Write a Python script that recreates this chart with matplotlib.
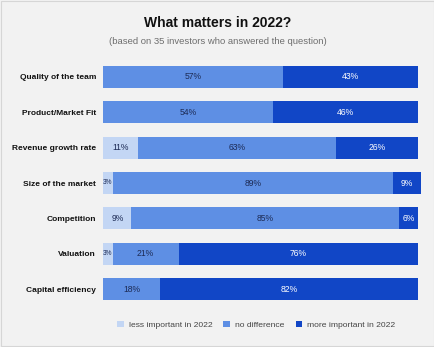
import matplotlib.pyplot as plt
from matplotlib.patches import Patch, Rectangle

plt.rcParams['font.family'] = ['Liberation Sans', 'DejaVu Sans']

categories = ['Quality of the team', 'Product/Market Fit', 'Revenue growth rate',
              'Size of the market', 'Competition', 'Valuation', 'Capital efficiency']
less_important = [0, 0, 11, 3, 9, 3, 0]
no_difference = [57, 54, 63, 89, 85, 21, 18]
more_important = [43, 46, 26, 9, 6, 76, 82]

series_names = ['less important in 2022', 'no difference', 'more important in 2022']
colors = ['#c3d6f4', '#5e8fe4', '#1146c6']
text_colors = ['#1d2b55', '#1d2b55', 'white']

bg = '#f2f2f2'
fig = plt.figure(figsize=(4.35, 3.47), dpi=100, facecolor=bg)
fig.patches.append(Rectangle((0.003, 0.003), 0.994, 0.994, transform=fig.transFigure,
                             fill=False, edgecolor='#d6d6d6', linewidth=0.8))

ax = fig.add_axes([0.237, 1 - 307 / 347, 0.724, 248 / 347])
ax.set_facecolor(bg)

y = list(range(len(categories)))
left = [0] * len(categories)
for vals, color, tcol in zip([less_important, no_difference, more_important], colors, text_colors):
    ax.barh(y, vals, left=left, height=0.62, color=color, clip_on=False)
    for i, v in enumerate(vals):
        if v > 0:
            fs = 4.8 if v < 5 else 6.2
            ax.text(left[i] + v / 2, i, f'{v}%', ha='center', va='center',
                    fontsize=fs, color=tcol)
    left = [l + v for l, v in zip(left, vals)]

ax.set_xlim(0, 100)
ax.set_ylim(6.5, -0.5)
ax.set_xticks([])
ax.set_yticks(y)
ax.set_yticklabels(categories, fontsize=6.0, fontweight='bold', color='#111111')
ax.tick_params(axis='y', length=0, pad=5)
for s in ax.spines.values():
    s.set_visible(False)

fig.text(0.5, 1 - 23 / 347, 'What matters in 2022?', ha='center', va='center',
         fontsize=10, fontweight='bold', color='#111111')
fig.text(0.5, 1 - 41 / 347, '(based on 35 investors who answered the question)',
         ha='center', va='center', fontsize=6.8, color='#6e6e6e')

handles = [Patch(facecolor=c, label=n) for c, n in zip(colors, series_names)]
fig.legend(handles=handles, loc='center', bbox_to_anchor=(0.589, 1 - 325 / 347),
           ncol=3, frameon=False, fontsize=6.1, handlelength=0.8, handleheight=0.8,
           handletextpad=0.6, columnspacing=1.3, labelcolor='#444444')

fig.savefig('out.png', dpi=100, facecolor=bg)
